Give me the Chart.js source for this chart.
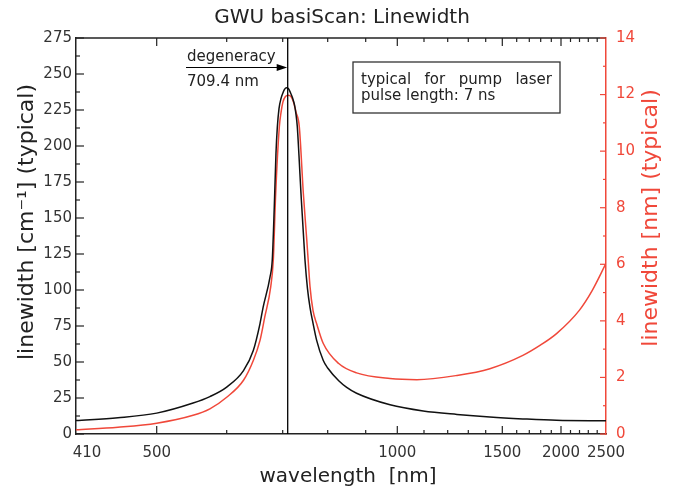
<!DOCTYPE html>
<html><head><meta charset="utf-8">
<script src="https://cdn.jsdelivr.net/npm/chart.js@4/dist/chart.umd.min.js"></script>
<style>html,body{margin:0;padding:0;background:#fff;}#wrap{width:676px;height:494px;position:relative;}</style>
</head><body><div id="wrap"><canvas id="c"></canvas></div>
<script>
const FONT = "'DejaVu Sans', Verdana, sans-serif";
const RED = '#f0483a';
const INK = '#222222';

// ---- nonlinear wavelength axis definition (wavelength -> axis units) ----
const axisKnotNm  = [400, 410, 500, 600, 700, 709.4, 800, 900, 1000, 1100, 1200, 1300, 1400, 1500, 1600, 1700, 1800, 1900, 2000, 2100, 2200, 2300, 2400, 2500];
const axisKnotPos = [0, 11, 80.7, 150.7, 206.7, 211.7, 251.7, 289.7, 321.3, 348, 371.7, 392.3, 409.7, 426.3, 440.7, 453.3, 464.7, 475.3, 485, 494.5, 503.5, 512.3, 521.2, 530];

// ---- tick labels ----
const xTickNm = [410, 500, 1000, 1500, 2000, 2500];
const xTickLabels = ['410', '500', '1000', '1500', '2000', '2500'];
const xMajorNm = [500, 1000, 1500, 2000];
const xMinorNm = [600, 700, 800, 900, 1100, 1200, 1300, 1400, 1600, 1700, 1800, 1900, 2100, 2200, 2300, 2400];
const degeneracyNm = 709.4;

// ---- series: linewidth in cm^-1 (left axis) ----
const blackNm = [400, 450, 500, 552, 576, 600, 630, 647.5, 659.5, 665, 677.3, 681.4, 685, 688, 690.4, 693.4, 697, 700, 703.4, 707.1, 711.2, 715.7, 720.3, 724.8, 728.2, 731.1, 735, 739.5, 748.5, 754.2, 759.9, 766.7, 775, 790, 800, 829, 850, 876, 977, 1097, 1245, 1425, 1649, 1954, 2500];
const blackCm = [9.4, 11.3, 14.5, 21.5, 26, 32.6, 44, 58, 76.7, 88, 109, 121, 158, 195, 213, 226, 233, 236.5, 239.3, 240.5, 239.7, 237, 233.5, 228.5, 222, 213.6, 193, 167, 121, 101, 88, 77, 65, 51, 45.8, 37, 32.4, 28.3, 20.3, 16, 13.6, 11.8, 10.5, 9.5, 9.2];

// ---- series: linewidth in nm (right axis) ----
const redNm = [400, 450, 500, 552, 576, 600, 630, 647.5, 659.5, 668, 678.6, 683.2, 687.5, 694, 697.1, 700.5, 705.1, 710.8, 716.9, 722.5, 728.2, 735.7, 744.8, 752.6, 756.2, 760, 766.8, 775, 790, 829, 876, 977, 1073, 1245, 1425, 1649, 1800, 1954, 2200, 2340, 2500];
const redVal = [0.15, 0.24, 0.38, 0.66, 0.89, 1.3, 1.9, 2.6, 3.31, 4.14, 5.2, 6.15, 8.51, 10.86, 11.38, 11.74, 11.93, 11.98, 11.93, 11.74, 11.38, 10.86, 8.51, 6.86, 6.05, 5.2, 4.36, 3.9, 3.2, 2.49, 2.16, 1.96, 1.92, 2.07, 2.31, 2.78, 3.15, 3.55, 4.38, 5.05, 6.03];

function toAxis(nm) {
  const k = axisKnotNm, p = axisKnotPos;
  if (nm <= k[0]) return p[0];
  for (let i = 1; i < k.length; i++) {
    if (nm <= k[i]) return p[i-1] + (nm - k[i-1]) / (k[i] - k[i-1]) * (p[i] - p[i-1]);
  }
  return p[p.length - 1];
}

const decor = {
  id: 'decor',
  afterDraw(chart) {
    const ctx = chart.ctx, a = chart.chartArea;
    const xs = chart.scales.x, yl = chart.scales.y, yr = chart.scales.y2;
    ctx.save();
    // top frame
    ctx.strokeStyle = INK; ctx.lineWidth = 1.5;
    ctx.beginPath(); ctx.moveTo(a.left, a.top); ctx.lineTo(a.right, a.top); ctx.stroke();
    // x ticks (inward, bottom & top)
    ctx.lineWidth = 1.2;
    const xt = (nm, len) => {
      const px = xs.getPixelForValue(toAxis(nm));
      ctx.beginPath();
      ctx.moveTo(px, a.bottom); ctx.lineTo(px, a.bottom - len);
      ctx.moveTo(px, a.top); ctx.lineTo(px, a.top + len);
      ctx.stroke();
    };
    xMajorNm.forEach(v => xt(v, 8));
    xMinorNm.forEach(v => xt(v, 4));
    // left y ticks
    for (let v = 0; v <= 275; v += 12.5) {
      const py = yl.getPixelForValue(v);
      const len = (v % 25 === 0) ? 8 : 4;
      ctx.beginPath(); ctx.moveTo(a.left, py); ctx.lineTo(a.left + len, py); ctx.stroke();
    }
    // right y ticks (red)
    ctx.strokeStyle = RED;
    for (let v = 0; v <= 14; v += 1) {
      const py = yr.getPixelForValue(v);
      const len = (v % 2 === 0) ? 6 : 3;
      ctx.beginPath(); ctx.moveTo(a.right, py); ctx.lineTo(a.right - len, py); ctx.stroke();
    }
    // degeneracy line
    const dx = xs.getPixelForValue(toAxis(degeneracyNm));
    ctx.strokeStyle = '#000'; ctx.lineWidth = 1.3;
    ctx.beginPath(); ctx.moveTo(dx, a.top); ctx.lineTo(dx, a.bottom); ctx.stroke();
    // arrow
    const ay = 67.5;
    ctx.lineWidth = 1.2;
    ctx.beginPath(); ctx.moveTo(186, ay); ctx.lineTo(dx - 8, ay); ctx.stroke();
    ctx.fillStyle = '#000';
    ctx.beginPath(); ctx.moveTo(dx - 0.5, ay); ctx.lineTo(dx - 11, ay - 3.5); ctx.lineTo(dx - 11, ay + 3.5); ctx.closePath(); ctx.fill();
    ctx.fillStyle = INK;
    ctx.font = '15px ' + FONT;
    ctx.textAlign = 'left'; ctx.textBaseline = 'alphabetic';
    ctx.fillText('degeneracy', 187, 61);
    ctx.fillText('709.4 nm', 187, 85.5);
    // text box
    ctx.strokeStyle = '#333'; ctx.lineWidth = 1.3;
    ctx.strokeRect(353, 62, 207, 51);
    const words = ['typical', 'for', 'pump', 'laser'];
    const x0 = 361, x1 = 552;
    const wsum = words.reduce((s, w) => s + ctx.measureText(w).width, 0);
    const gap = (x1 - x0 - wsum) / (words.length - 1);
    let cx = x0;
    words.forEach(w => { ctx.fillText(w, cx, 83.5); cx += ctx.measureText(w).width + gap; });
    ctx.fillText('pulse length: 7 ns', 361, 99.5);
    // title
    ctx.textAlign = 'center'; ctx.textBaseline = 'middle';
    ctx.font = '20px ' + FONT;
    ctx.fillText('GWU basiScan: Linewidth', 342, 18);
    // x title
    ctx.fillText('wavelength  [nm]', 348, 477);
    // y titles
    ctx.font = '22px ' + FONT;
    ctx.save(); ctx.translate(27, 222); ctx.rotate(-Math.PI / 2);
    ctx.fillText('linewidth [cm\u207B\u00B9] (typical)', 0, 0); ctx.restore();
    ctx.fillStyle = RED;
    ctx.save(); ctx.translate(651, 218); ctx.rotate(-Math.PI / 2);
    ctx.fillText('linewidth [nm] (typical)', 0, 0); ctx.restore();
    ctx.restore();
  }
};

new Chart(document.getElementById('c'), {
  type: 'line',
  data: {
    datasets: [
      { label: 'cm-1', data: blackNm.map((nm, i) => ({ x: toAxis(nm), y: blackCm[i] })),
        borderColor: '#111', borderWidth: 1.5, pointRadius: 0, cubicInterpolationMode: 'monotone', yAxisID: 'y' },
      { label: 'nm', data: redNm.map((nm, i) => ({ x: toAxis(nm), y: redVal[i] })),
        borderColor: RED, borderWidth: 1.5, pointRadius: 0, cubicInterpolationMode: 'monotone', yAxisID: 'y2' }
    ]
  },
  options: {
    responsive: true, maintainAspectRatio: false, animation: false,
    layout: { padding: { top: 38, left: 0, right: 0, bottom: 0 } },
    plugins: { legend: { display: false }, tooltip: { enabled: false }, title: { display: false } },
    scales: {
      x: {
        type: 'linear', min: 0, max: 530,
        afterBuildTicks: s => { s.ticks = xTickNm.map(v => ({ value: toAxis(v) })); },
        afterFit: s => { s.height = 60; },
        grid: { display: false, drawTicks: false },
        border: { display: true, color: INK, width: 1.5 },
        ticks: { autoSkip: false, maxRotation: 0, padding: 10, color: '#333',
          font: { family: FONT, size: 15 }, callback: (v, i) => xTickLabels[i] }
      },
      y: {
        position: 'left', min: 0, max: 275,
        afterFit: s => { s.width = 76; },
        grid: { display: false, drawTicks: false },
        border: { display: true, color: INK, width: 1.5 },
        ticks: { stepSize: 25, padding: 4, color: '#333', font: { family: FONT, size: 15 } }
      },
      y2: {
        position: 'right', min: 0, max: 14,
        afterFit: s => { s.width = 70; },
        grid: { display: false, drawTicks: false },
        border: { display: true, color: RED, width: 1.5 },
        ticks: { stepSize: 2, padding: 10, color: RED, font: { family: FONT, size: 15 } }
      }
    }
  },
  plugins: [decor]
});
</script>
</body></html>
